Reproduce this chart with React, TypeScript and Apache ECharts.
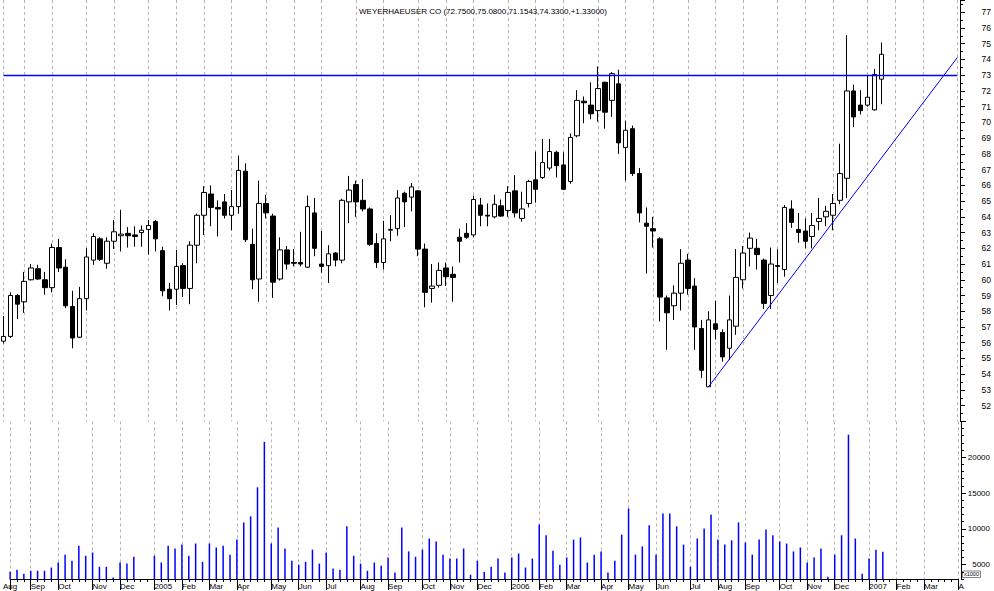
import React, { useEffect, useRef } from "react";
import * as echarts from "echarts";

// ---------- data ----------
const titleText = "WEYERHAEUSER CO (72.7500,75.0800,71.1543,74.3300,+1.33000)";
const firstWeek = "2004-08-13"; // weekly bars (week ending Friday)
const totalWeeks = 139; // axis runs to early Apr 2007

const opens = [
  56.1, 56.4, 59.0, 58.6, 60.0, 60.7, 60.0, 59.5, 62.05, 60.8, 58.3, 56.35, 58.8, 61.25, 62.6, 61.05,
  62.45, 62.8, 62.95, 62.85, 63.0, 63.2, 63.7, 61.85, 59.4, 59.4, 60.9, 59.45, 62.2, 64.1, 65.45, 64.6,
  64.95, 64.1, 64.65, 66.9, 62.25, 60.05, 64.85, 64.05, 60.05, 61.9, 61.1, 61.1, 60.8, 64.25, 61.0, 60.9,
  61.7, 61.25, 64.95, 66.05, 65.05, 64.5, 62.3, 61.1, 63.15, 63.25, 65.5, 65.25, 65.65, 61.95, 59.45, 59.65,
  60.75, 60.35, 62.7, 62.95, 62.85, 64.75, 64.1, 64.0, 64.7, 64.4, 65.65, 63.9, 64.85, 66.35, 66.5, 67.1,
  68.1, 67.3, 66.25, 69.15, 71.35, 71.1, 70.75, 72.55, 71.4, 72.45, 68.4, 69.6, 66.75, 63.6, 63.25, 62.6,
  58.85, 58.35, 59.15, 61.25, 59.6, 56.9, 53.2, 57.2, 56.65, 55.65, 57.05, 60.0, 62.0, 62.0, 61.25, 59.0,
  60.9, 60.65, 64.5, 63.2, 63.1, 62.75, 63.7, 64.0, 64.1, 65.05, 66.45, 72.0, 71.1, 71.1, 70.8, 72.75,
];
const highs = [
  57.7, 59.2, 59.1, 60.5, 61.0, 60.95, 60.5, 62.3, 62.6, 61.3, 59.3, 59.55, 62.0, 62.95, 62.7, 62.7,
  63.8, 64.45, 63.35, 63.4, 63.45, 63.8, 63.8, 62.1, 59.8, 61.9, 61.05, 62.45, 64.2, 65.95, 66.0, 65.05,
  65.45, 65.7, 67.9, 67.4, 63.25, 66.3, 65.4, 64.2, 62.7, 62.15, 61.95, 63.05, 65.35, 65.2, 63.1, 62.2,
  61.75, 65.15, 66.6, 66.3, 66.4, 64.6, 62.95, 63.75, 64.1, 65.7, 65.6, 66.15, 65.7, 62.3, 61.0, 61.1,
  61.1, 60.85, 63.25, 63.6, 65.35, 65.2, 64.85, 65.4, 65.1, 65.95, 66.65, 65.6, 66.35, 68.15, 68.95, 68.95,
  68.2, 68.1, 69.3, 72.05, 71.65, 72.55, 73.55, 72.6, 73.2, 73.35, 70.1, 69.8, 67.1, 64.6, 64.0, 62.7,
  59.0, 59.65, 61.95, 61.65, 60.1, 57.45, 58.0, 58.65, 56.85, 59.0, 61.95, 62.15, 63.0, 62.6, 61.35, 62.05,
  61.95, 64.75, 65.05, 64.25, 63.9, 64.25, 65.2, 64.7, 65.45, 68.65, 75.55, 72.4, 72.05, 72.95, 73.4, 75.08,
];
const lows = [
  55.95, 56.3, 57.5, 57.9, 59.95, 60.0, 59.05, 59.2, 60.5, 58.2, 55.65, 56.3, 58.05, 60.95, 61.2, 60.7,
  61.95, 61.8, 62.05, 62.1, 62.1, 61.6, 61.8, 58.95, 58.05, 58.4, 58.9, 58.45, 61.05, 62.85, 63.4, 62.75,
  63.9, 63.15, 64.2, 62.4, 59.4, 58.6, 63.9, 58.85, 59.95, 60.65, 60.85, 60.85, 60.75, 61.5, 60.45, 59.8,
  60.85, 61.05, 63.6, 64.0, 64.35, 62.15, 60.75, 60.65, 62.45, 62.8, 63.35, 64.35, 61.5, 58.25, 58.55, 59.5,
  59.6, 58.6, 61.1, 62.6, 62.7, 63.4, 63.4, 63.9, 64.0, 64.0, 63.95, 63.7, 64.6, 64.9, 66.4, 66.95,
  66.5, 65.7, 66.1, 69.05, 69.95, 70.2, 70.05, 69.6, 70.35, 68.0, 66.3, 66.6, 63.65, 60.4, 62.05, 57.35,
  55.55, 57.45, 58.05, 59.05, 55.55, 53.75, 53.2, 56.2, 54.8, 54.9, 56.5, 59.45, 60.85, 60.65, 58.15, 58.15,
  59.8, 60.2, 63.3, 62.35, 62.0, 62.0, 63.15, 63.4, 63.15, 64.8, 65.2, 69.7, 70.5, 71.0, 70.75, 71.1543,
];
const closes = [
  56.4, 59.0, 58.45, 59.9, 60.75, 60.05, 59.5, 62.05, 60.75, 58.35, 56.3, 58.8, 61.45, 62.75, 61.3, 62.45,
  63.05, 62.9, 62.8, 62.75, 63.15, 63.45, 62.6, 59.3, 58.8, 60.85, 59.45, 62.2, 64.1, 65.55, 64.6, 64.5,
  64.1, 64.65, 66.95, 62.55, 60.0, 64.85, 64.25, 59.85, 61.9, 61.0, 61.05, 61.0, 64.65, 62.0, 60.85, 61.65,
  61.25, 65.05, 65.7, 64.95, 64.5, 62.25, 61.1, 62.6, 63.2, 65.2, 64.95, 65.9, 61.95, 59.2, 59.6, 60.6,
  60.2, 60.15, 62.45, 62.7, 65.1, 64.1, 64.05, 64.8, 64.05, 65.55, 64.25, 64.5, 66.25, 65.75, 67.45, 68.15,
  67.25, 65.75, 69.05, 71.4, 71.25, 70.55, 72.15, 70.65, 73.1, 68.7, 69.5, 66.75, 64.25, 63.4, 63.1, 58.9,
  57.9, 59.15, 61.05, 59.45, 57.0, 54.25, 57.45, 56.85, 55.1, 57.45, 60.15, 61.7, 62.65, 61.6, 58.5, 61.0,
  60.85, 64.6, 63.65, 63.0, 62.45, 63.45, 63.9, 64.35, 64.85, 66.75, 72.0, 70.35, 70.75, 71.6, 73.05, 74.33,
];
const volumes = [
  4000, 4300, 3750, 4150, 4150, 4150, 4600, 5300, 6400, 5550, 7650, 6250, 6700, 4700, 4700, 3200,
  5300, 5150, 6100, 2900, 2900, 6250, 5300, 7650, 7250, 7800, 6250, 7950, 5400, 7950, 7400, 7650,
  6400, 8500, 10900, 11750, 15800, 22150, 7950, 10200, 7250, 5550, 5000, 5400, 7100, 5150, 6700, 4450,
  4300, 10350, 6250, 5150, 4150, 5300, 4850, 6000, 3900, 10200, 6850, 6100, 7100, 8650, 8250, 6400,
  5850, 5850, 7250, 3600, 5550, 4000, 4700, 5850, 3900, 6000, 6550, 4600, 5850, 10600, 9100, 6950,
  5000, 6000, 8500, 8800, 5300, 6400, 6850, 3900, 5550, 9200, 12850, 6400, 7550, 10500, 6400, 12150,
  12150, 10350, 7800, 4700, 8650, 10050, 12000, 8500, 7800, 8400, 10900, 8100, 6400, 8500, 9900, 9100,
  8250, 7950, 6850, 7400, 5300, 6000, 7250, 3300, 6400, 9100, 23150, 8650, 3750, 5850, 7100, 6800,
];

// month start weeks and their tick labels
const monthStartWeeks = [
  0, 3, 7, 12, 16, 21, 25, 29, 33, 38, 42, 46, 51, 55, 60, 64, 68, 73, 77, 81, 86, 90, 94, 99, 103,
  107, 112, 116, 120, 125, 129, 133, 138,
];
const monthTickLabels = [
  "Aug", "Sep", "Oct", "Nov", "Dec", "2005", "Feb", "Mar", "Apr", "May", "Jun", "Jul", "Aug", "Sep",
  "Oct", "Nov", "Dec", "2006", "Feb", "Mar", "Apr", "May", "Jun", "Jul", "Aug", "Sep", "Oct", "Nov",
  "Dec", "2007", "Feb", "Mar", "A",
];

const resistanceLevel = 73;
const trendStart = { week: 102, value: 53.2 };
const trendEnd = { week: 138, value: 74.13 };

const priceRange = { min: 51, max: 77.78 };
const volumeRange = { min: 3000, max: 25000 };
const volumeLabelValues = [5000, 10000, 15000, 20000];
const volumeMajorTicks = [5000, 10000, 15000, 20000, 25000];

// ---------- helpers ----------
function buildWeeks(): string[] {
  const out: string[] = [];
  const [y, m, d] = firstWeek.split("-").map(Number);
  const t0 = Date.UTC(y, m - 1, d);
  for (let i = 0; i < totalWeeks; i++) {
    out.push(new Date(t0 + i * 7 * 86400000).toISOString().slice(0, 10));
  }
  return out;
}

const FONT = '"Liberation Sans", Arial, Helvetica, sans-serif';

export default function App() {
  const ref = useRef<HTMLDivElement>(null);

  useEffect(() => {
    document.body.style.margin = "0";
    if (!ref.current) return;
    const chart = echarts.init(ref.current, undefined, { renderer: "svg" });

    const weeks = buildWeeks();
    const labelMap: Record<number, string> = {};
    monthStartWeeks.forEach((w, k) => (labelMap[w] = monthTickLabels[k]));
    const isMonthStart = (i: number) => labelMap[i] !== undefined;

    const ohlc = opens.map((o, i) => [o, closes[i], lows[i], highs[i]]);

    const gridLine = {
      show: true,
      interval: (i: number) => isMonthStart(i),
      lineStyle: { color: "#b4b4b4", width: 1, type: [3, 3] as any },
    };

    const plotLeft = 3.46;
    const plotRight = 994 - 958.4;
    const axisOffset = 2.6;
    const priceBottomY = 421.4;

    const option: any = {
      animation: false,
      backgroundColor: "#ffffff",
      title: {
        text: titleText,
        left: 354,
        top: 2,
        textStyle: { fontSize: 8, fontWeight: "normal", color: "#000", fontFamily: FONT },
      },
      grid: [
        { left: plotLeft, right: plotRight, top: 0, bottom: 591 - priceBottomY },
        { left: plotLeft, right: plotRight, top: priceBottomY, bottom: 12 },
      ],
      xAxis: [
        {
          type: "category",
          gridIndex: 0,
          data: weeks,
          boundaryGap: false,
          axisLine: { show: false },
          axisTick: { show: false },
          axisLabel: { show: false },
          splitLine: gridLine,
        },
        {
          type: "category",
          gridIndex: 1,
          data: weeks,
          boundaryGap: false,
          position: "bottom",
          axisLine: { show: true, onZero: false, lineStyle: { color: "#000", width: 1 } },
          axisTick: { show: true, interval: 0, length: 3, lineStyle: { color: "#000" } },
          axisLabel: {
            show: true,
            interval: (i: number) => isMonthStart(i) && i !== 0,
            formatter: (_v: string, i: number) => labelMap[i] ?? "",
            align: "left",
            margin: 3,
            fontSize: 8,
            color: "#000",
            fontFamily: FONT,
          },
          splitLine: gridLine,
        },
        {
          type: "category",
          gridIndex: 1,
          data: weeks,
          boundaryGap: false,
          position: "bottom",
          axisLine: { show: false, onZero: false },
          axisTick: {
            show: true,
            interval: (i: number) => isMonthStart(i),
            length: 11,
            lineStyle: { color: "#000" },
          },
          axisLabel: {
            show: true,
            interval: (i: number) => i === 0,
            formatter: (_v: string, i: number) => labelMap[i] ?? "",
            align: "center",
            margin: 3,
            fontSize: 8,
            color: "#000",
            fontFamily: FONT,
          },
          splitLine: { show: false },
        },
      ],
      yAxis: [
        {
          type: "value",
          gridIndex: 0,
          position: "right",
          offset: axisOffset,
          min: priceRange.min,
          max: priceRange.max,
          interval: 1,
          axisLine: { show: true, lineStyle: { color: "#000", width: 1 } },
          axisTick: { show: true, length: 5, lineStyle: { color: "#000" } },
          minorTick: { show: true, splitNumber: 2, length: 3, lineStyle: { color: "#000" } },
          axisLabel: {
            showMinLabel: false,
            showMaxLabel: false,
            formatter: (v: number) => (Number.isInteger(v) ? String(v) : ""),
            align: "right",
            margin: 31,
            fontSize: 8.5,
            color: "#000",
            fontFamily: FONT,
          },
          splitLine: { show: false },
        },
        {
          type: "value",
          gridIndex: 1,
          position: "right",
          offset: axisOffset,
          min: volumeRange.min,
          max: volumeRange.max,
          interval: 1000,
          axisLine: { show: true, lineStyle: { color: "#000", width: 1 } },
          axisTick: { show: true, length: 3, lineStyle: { color: "#000" } },
          axisLabel: { show: false },
          splitLine: { show: false },
        },
        {
          type: "value",
          gridIndex: 1,
          position: "right",
          offset: axisOffset,
          min: volumeRange.min,
          max: volumeRange.max,
          axisLine: { show: false },
          axisTick: { show: true, length: 5, customValues: volumeMajorTicks, lineStyle: { color: "#000" } },
          axisLabel: {
            show: true,
            customValues: volumeLabelValues,
            formatter: (v: number) => String(v),
            align: "right",
            margin: 29,
            fontSize: 8,
            color: "#000",
            fontFamily: FONT,
          },
          splitLine: { show: false },
        },
      ],
      series: [
        {
          type: "candlestick",
          xAxisIndex: 0,
          yAxisIndex: 0,
          data: ohlc,
          barWidth: 5,
          clip: false,
          silent: true,
          itemStyle: {
            color: "#ffffff",
            color0: "#000000",
            borderColor: "#000000",
            borderColor0: "#000000",
            borderWidth: 1,
          },
          markLine: {
            silent: true,
            symbol: ["none", "none"],
            label: { show: false },
            lineStyle: { color: "#0000ff", width: 1, type: "solid" },
            emphasis: { disabled: true },
            data: [
              { yAxis: resistanceLevel, lineStyle: { color: "#0000ff", width: 1.3, type: "solid" } },
              [
                { coord: [weeks[trendStart.week], trendStart.value] },
                { coord: [weeks[trendEnd.week], trendEnd.value] },
              ],
            ],
          },
        },
        {
          type: "bar",
          xAxisIndex: 1,
          yAxisIndex: 1,
          data: volumes,
          barWidth: 1.5,
          silent: true,
          itemStyle: { color: "#0000ff" },
        },
      ],
      graphic: [
        {
          type: "rect",
          shape: { x: 962.5, y: 571, width: 18, height: 6.5 },
          style: { fill: "#ffffff", stroke: "#666666", lineWidth: 0.8 },
        },
        {
          type: "text",
          x: 971.5,
          y: 574.4,
          style: {
            text: "x1000",
            fontSize: 5.5,
            fill: "#000",
            align: "center",
            verticalAlign: "middle",
            fontFamily: FONT,
          },
        },
      ],
    };

    chart.setOption(option);
    return () => chart.dispose();
  }, []);

  return <div ref={ref} style={{ width: 994, height: 591 }} />;
}
